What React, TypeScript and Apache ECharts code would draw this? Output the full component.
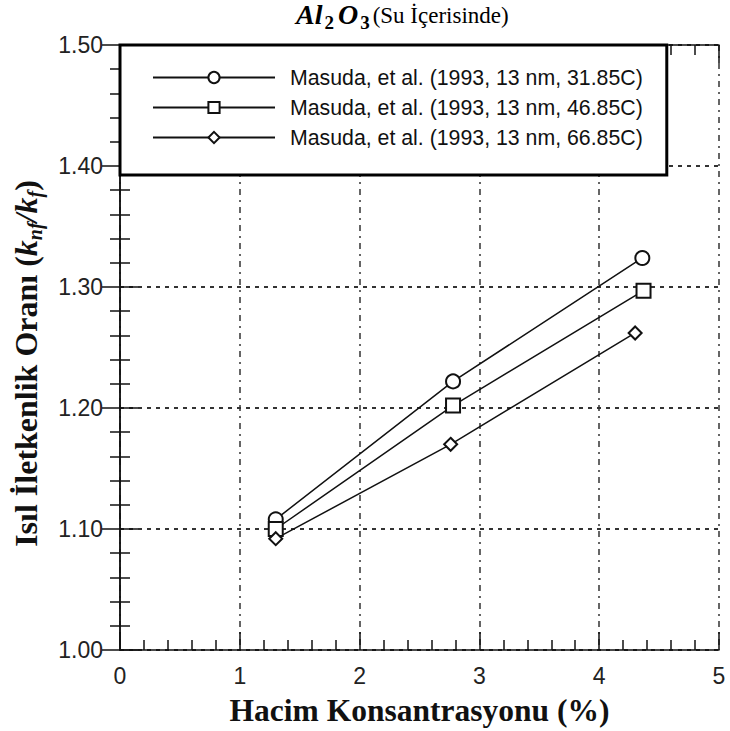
import React, { useEffect, useRef } from "react";
import * as echarts from "echarts";

const seriesNames = [
  "Masuda, et al. (1993, 13 nm, 31.85C)",
  "Masuda, et al. (1993, 13 nm, 46.85C)",
  "Masuda, et al. (1993, 13 nm, 66.85C)",
];
const circleX = [1.3, 2.78, 4.36];
const circleY = [1.108, 1.222, 1.324];
const squareX = [1.3, 2.78, 4.37];
const squareY = [1.1, 1.202, 1.297];
const diamondX = [1.3, 2.76, 4.3];
const diamondY = [1.092, 1.17, 1.262];
const symbols = ["emptyCircle", "emptyRect", "emptyDiamond"];
const symbolSizes = [14, 14, 13];

const xTicks = [0, 1, 2, 3, 4, 5];
const yTicks = [1.0, 1.1, 1.2, 1.3, 1.4, 1.5];

function zip(xs: number[], ys: number[]) {
  return xs.map((x, i) => [x, ys[i]]);
}

export default function App() {
  const ref = useRef<HTMLDivElement>(null);
  useEffect(() => {
    if (!ref.current) return;
    const chart = echarts.init(ref.current, undefined, { renderer: "svg" });
    const serif = "'Liberation Serif', 'DejaVu Serif', serif";
    const sans = "'Liberation Sans', Arial, sans-serif";
    const axisCommon = {
      axisLine: { show: true, lineStyle: { color: "#111", width: 1.5 } },
      axisTick: { show: true, inside: true, length: 18, lineStyle: { color: "#111", width: 1.5 } },
      minorTick: { show: true, splitNumber: 5, length: 10, lineStyle: { color: "#111", width: 1.5 } },
    };
    const dataSets = [zip(circleX, circleY), zip(squareX, squareY), zip(diamondX, diamondY)];
    chart.setOption({
      animation: false,
      backgroundColor: "#fff",
      title: {
        text: "{a|Al}{s|2}{a|O}{s|3}{b|(Su İçerisinde)}",
        left: 295,
        top: 0,
        padding: [0, 0, 0, 0],
        textStyle: {
          rich: {
            a: { fontFamily: serif, fontWeight: "bold", fontStyle: "italic", fontSize: 28, color: "#000", lineHeight: 32, verticalAlign: "bottom", padding: [0, 1, 4, 1] },
            s: { fontFamily: serif, fontWeight: "bold", fontSize: 19, color: "#000", lineHeight: 32, verticalAlign: "bottom", padding: [0, 3, 0, 1] },
            b: { fontFamily: serif, fontWeight: "normal", fontSize: 23, color: "#000", lineHeight: 32, verticalAlign: "bottom", padding: [0, 0, 5, 0] },
          },
        },
      },
      grid: { left: 120, right: 11, top: 45, bottom: 79 },
      legend: {
        orient: "vertical",
        left: 120,
        top: 45,
        backgroundColor: "#fff",
        borderColor: "#000",
        borderWidth: 3,
        borderRadius: 0,
        padding: [22, 24, 27, 32],
        itemWidth: 122,
        itemHeight: 14,
        itemGap: 9,
        data: seriesNames,
        textStyle: { fontFamily: sans, fontSize: 21.3, color: "#111", padding: [0, 0, 0, 10] },
      },
      xAxis: [
        {
          type: "value",
          min: 0,
          max: 5,
          interval: 1,
          ...axisCommon,
          axisLabel: { fontFamily: sans, fontSize: 23, color: "#222", margin: 14, formatter: (v: number) => (xTicks.includes(v) ? String(v) : "") },
          splitLine: { show: true, lineStyle: { color: "#333", width: 1.5, type: [6, 5, 2, 5] } },
          name: "Hacim Konsantrasyonu (%)",
          nameLocation: "middle",
          nameGap: 44,
          nameTextStyle: { fontFamily: serif, fontWeight: "bold", fontSize: 31.5, color: "#111" },
        },
        {
          type: "value",
          position: "top",
          min: 0,
          max: 5,
          interval: 1,
          ...axisCommon,
          axisLabel: { show: false },
          splitLine: { show: false },
        },
      ],
      yAxis: [
        {
          type: "value",
          min: 1.0,
          max: 1.5,
          interval: 0.1,
          ...axisCommon,
          axisLabel: { fontFamily: sans, fontSize: 23, color: "#222", margin: 17, formatter: (v: number) => (yTicks.some((t) => Math.abs(t - v) < 1e-6) ? v.toFixed(2) : "") },
          splitLine: { show: true, lineStyle: { color: "#333", width: 2, type: [4, 5] } },
          name: "Isıl İletkenlik Oranı ({i|k}{s|nf}{i|/k}{s|f})",
          nameLocation: "middle",
          nameGap: 75,
          nameRotate: 90,
          nameTextStyle: {
            fontFamily: serif,
            fontWeight: "bold",
            fontSize: 32,
            color: "#111",
            padding: [0, 32, 0, 0],
            rich: {
              i: { fontFamily: serif, fontWeight: "bold", fontStyle: "italic", fontSize: 32, color: "#111", lineHeight: 38, verticalAlign: "middle" },
              s: { fontFamily: serif, fontWeight: "bold", fontStyle: "italic", fontSize: 20, color: "#111", lineHeight: 38, verticalAlign: "bottom" },
            },
          },
        },
        {
          type: "value",
          position: "right",
          min: 1.0,
          max: 1.5,
          interval: 0.1,
          ...axisCommon,
          axisLabel: { show: false },
          splitLine: { show: false },
        },
      ],
      series: dataSets.map((d, i) => ({
        name: seriesNames[i],
        type: "line",
        data: d,
        xAxisIndex: 0,
        yAxisIndex: 0,
        symbol: symbols[i],
        symbolSize: symbolSizes[i],
        showSymbol: true,
        lineStyle: { color: "#111", width: 1.5 },
        itemStyle: { color: "#111", borderColor: "#111", borderWidth: 1.5 },
        z: 3,
      })),
    });
    return () => chart.dispose();
  }, []);
  return <div ref={ref} style={{ position: "absolute", left: 0, top: 0, width: 730, height: 731 }} />;
}
